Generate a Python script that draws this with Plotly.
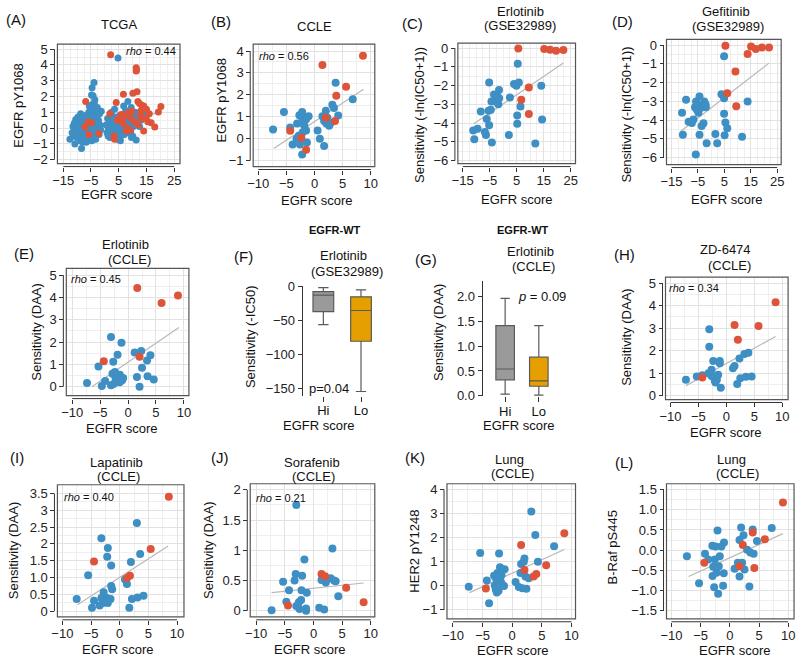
import plotly.graph_objects as go

W, H = 800, 665
FONT = "Liberation Sans, Arial, Helvetica, sans-serif"
BLUE = "#3E8FC4"
RED = "#DD543A"
FITC = "#b8b8b8"

# ---------------- data ----------------
A_blue = [(-12.6,-0.7),(-11.8,-0.3),(-11.5,0.1),(-11.2,-0.5),(-10.9,-0.2),(-10.5,0.55),(-10.3,0.2),(-10.1,-0.6),
          (-9.8,-0.1),(-9.6,0.3),(-9.4,-0.4),(-9.2,0.0),(-9.0,-0.8),(-8.8,0.4),(-8.6,-0.2),(-8.4,-1.3),(-8.3,0.1),
          (-8.1,-0.5),(-7.9,0.6),(-7.7,-0.1),(-7.6,0.3),(-7.4,-0.7),(-7.2,-0.3),(-7.0,0.2),(-6.9,0.8),(-6.7,-0.9),
          (-6.5,0.0),(-6.3,0.5),(-6.2,-0.4),(-6.0,-0.1),(-5.8,1.0),(-5.7,0.3),(-5.5,-0.6),(-5.3,0.7),(-5.2,-0.2),
          (-5.0,1.3),(-4.9,0.1),(-4.7,-0.8),(-4.6,1.48),(-4.6,2.55),(-4.25,2.04),(-4.4,0.5),(-4.2,-0.3),(-4.0,0.9),
          (-3.9,2.88),(-3.8,1.6),(-3.7,0.2),(-3.5,-0.5),(-3.4,1.1),(-3.2,0.4),(-3.0,-0.2),(-2.9,0.7),(-2.7,1.3),
          (-2.5,0.0),(-2.3,0.5),(-2.1,-0.4),(-1.9,0.9),(-1.7,0.2),(-1.3,1.06),(-1.5,-0.1),(-8.0,-0.9),(-9.7,0.7),
          (-6.8,0.4),(-5.4,0.2),(-7.3,0.0),(-10.8,-1.0),(-3.6,1.8),(-4.8,2.1),(-4.3,1.2),(-5.6,1.4),(-11.0,0.3),
          (-9.9,-0.5),(-8.7,0.9),(-7.5,-0.4),(-6.4,-0.6),(-5.9,0.6),(-4.5,-0.1),(-3.3,-0.7),(-2.6,0.3),(-2.2,1.0),
          (0.5,0.2),(0.8,-0.3),(1.0,0.6),(1.3,-0.1),(1.5,0.3),(1.8,-0.6),(2.0,0.9),(2.2,0.0),(2.5,-0.4),(2.7,0.4),
          (3.0,0.1),(3.2,-0.2),(3.4,0.7),(3.6,-0.5),(3.8,0.3),(4.0,-0.1),(4.3,0.5),(4.5,-0.7),(4.74,4.44),(4.8,0.2),
          (5.0,-0.3),(5.3,0.8),(5.5,0.0),(5.8,-0.5),(6.0,0.4),(6.2,-0.2),(6.5,0.6),(6.7,0.1),(7.0,-0.4),(7.2,0.3),
          (7.5,1.1),(7.7,-0.1),(8.0,0.5),(8.3,1.68),(8.5,-0.3),(8.8,0.2),(9.0,0.8),(9.3,-0.2),(9.5,1.3),(9.8,0.4),
          (10.0,-0.5),(10.3,0.1),(10.6,0.6),(10.9,1.0),(11.3,-0.76),(11.5,0.3),(12.0,0.7),(12.5,0.1),(13.0,0.5),
          (14.0,0.96),(3.5,1.2),(6.8,1.4),(2.4,1.0),(5.6,-0.8),(9.6,-0.6),(11.8,0.9),(1.2,-0.5),(7.9,0.9),
          (4.1,0.0),(6.3,-0.1),(8.6,0.1),(3.1,0.5),(5.1,0.4),(7.4,0.6),(9.1,0.0),(10.4,0.8)]
A_red = [(2.1,4.64),(11.3,3.82),(11.3,3.61),(11.4,3.7),(10.1,2.2),(11.6,2.3),(6.7,2.14),(-6.9,1.68),(4.1,1.62),
         (11.9,1.68),(12.5,1.55),(13.3,1.45),(14.0,1.4),(15.0,1.2),(20.2,1.37),(19.3,1.02),(1.8,0.9),(-6.0,0.4),
         (-4.8,0.34),(-2.2,-0.34),(-7.2,0.07),(-5.8,-0.4),(3.5,-0.7),(3.3,-0.5),(7.7,-0.18),(9.2,-0.14),(14.0,-0.18),
         (18.0,0.07),(16.7,0.34),(15.5,0.4),(14.9,0.6),(10.7,0.4),(5.9,0.86),(5.3,0.65),(8.3,0.96),(9.7,1.06),
         (12.8,0.86),(13.3,0.6),(9.6,0.6),(6.5,0.3),(13.0,1.1),(16.0,0.9),(12.0,0.2),(8.0,0.0),(4.5,0.5),(7.0,0.7)]
A_fit = [(-12.0,-0.28),(19.0,0.96)]

B_blue = [(-7.37,0.42),(-5.44,1.22),(-4.33,0.51),(-3.1,0.69),(-2.7,1.07),(-2.2,1.22),(-2.1,0.96),(-2.4,0.73),
          (-1.8,0.59),(-1.5,0.37),(-2.1,0.29),(-2.8,0.14),(-3.2,0.0),(-3.9,-0.26),(-2.6,-0.26),(-2.2,-0.72),
          (-1.35,-0.17),(-1.05,1.03),(-1.5,0.89),(0.53,0.37),(0.94,0.0),(1.4,1.03),(1.7,-0.33),(2.0,1.28),
          (2.28,0.96),(2.6,0.59),(1.7,0.81),(2.1,0.69),(2.9,0.73),(3.16,1.55),(3.45,1.4),(3.74,2.55),(4.2,1.06),
          (6.78,1.8)]
B_red = [(-4.33,0.36),(-2.34,0.04),(-1.5,-0.5),(1.4,3.36),(2.0,0.96),(3.63,0.81),(3.86,1.96),(5.6,2.37),(8.6,3.78)]
B_fit = [(-7.25,-0.45),(8.7,2.26)]

C_blue = [(-11.1,-4.39),(-9.5,-4.30),(-10.7,-4.86),(-8.3,-3.38),(-6.8,-4.48),(-6.4,-4.64),(-6.1,-3.78),(-5.2,-1.84),
          (-5.4,-3.34),(-4.6,-3.29),(-5.2,-4.11),(-4.35,-2.85),(-4.2,-5.04),(-3.4,-2.47),(-3.1,-2.85),(-2.4,-2.5),
          (-2.2,-2.61),(-1.55,-2.24),(-1.8,-2.99),(-1.5,-2.68),(2.5,-2.64),(2.1,-4.64),(4.0,-1.92),(4.9,-2.01),
          (5.4,-0.84),(5.2,-3.59),(5.2,-4.04),(5.8,-1.84),(6.4,-3.11),(14.1,-2.01),(14.4,-3.81),(11.9,-5.09)]
C_red = [(5.6,-0.02),(9.5,-2.10),(6.7,-2.76),(9.5,-3.52),(15.2,-0.05),(17.4,-0.09),(19.6,-0.14),(22.3,-0.1)]
C_fit = [(-10.9,-4.04),(22.3,-0.80)]

D_blue = [(-11.0,-3.61),(-10.7,-4.78),(-9.5,-2.91),(-8.5,-4.08),(-7.3,-4.15),(-6.7,-3.96),(-6.1,-3.31),(-5.7,-3.0),
          (-5.4,-3.44),(-4.8,-3.61),(-4.4,-2.74),(-4.8,-3.2),(-4.4,-4.78),(-4.0,-3.35),(-3.6,-4.31),(-2.9,-4.17),
          (-2.6,-3.0),(-2.1,-3.17),(-2.0,-3.31),(-1.7,-5.23),(-5.8,-5.83),(1.6,-4.74),(2.3,-5.23),(3.9,-2.62),
          (4.9,-0.59),(4.9,-2.83),(4.9,-3.66),(5.1,-4.8),(5.4,-4.13),(6.1,-4.43),(11.7,-4.88),(13.8,-3.0)]
D_red = [(5.4,-0.03),(6.1,-2.56),(9.2,-1.4),(9.5,-3.26),(13.8,-0.47),(15.1,-0.07),(16.9,-0.21),(19.2,-0.12),(21.9,-0.12)]
D_fit = [(-11.6,-4.6),(21.9,-0.96)]

E_blue = [(-7.35,0.17),(-5.3,0.9),(-4.7,0.03),(-4.1,0.26),(-3.06,2.23),(-3.06,0.07),(-2.65,1.12),(-2.8,0.58),
          (-2.35,0.66),(-2.24,0.39),(-2.06,0.22),(-1.88,1.43),(-1.76,0.44),(-1.47,0.54),(-1.18,1.97),(-1.06,0.29),
          (-0.88,0.39),(-2.6,0.12),(-1.5,0.2),(1.18,1.53),(1.59,0.44),(2.06,0.0),(2.35,1.6),(2.5,0.85),(3.4,1.17),
          (3.5,0.47),(4.0,1.41),(4.6,0.32)]
E_red = [(-4.35,1.14),(1.65,4.42),(2.06,1.34),(6.0,3.75),(8.94,4.08)]
E_fit = [(-6.47,0.0),(9.12,2.65)]

H_blue = [(-7.24,0.7),(-5.3,0.85),(-4.3,0.9),(-3.06,2.95),(-3.06,2.17),(-2.35,1.53),(-2.65,1.14),(-3.2,0.99),
          (-2.65,0.87),(-2.18,0.8),(-2.06,0.66),(-1.94,0.58),(-1.47,0.92),(-1.18,1.53),(-1.18,1.43),(-1.0,0.34),
          (-1.7,0.7),(1.18,1.21),(1.47,1.31),(1.94,0.51),(2.35,1.65),(2.5,0.77),(3.24,1.85),(3.5,0.83),(3.94,1.9),
          (4.53,0.85)]
H_red = [(-4.3,0.8),(1.47,3.13),(2.06,2.48),(5.76,3.09),(8.82,4.15)]
H_fit = [(-7.24,0.44),(8.82,2.62)]

I_blue = [(-7.5,0.36),(-5.5,1.07),(-4.48,0.31),(-4.83,0.1),(-3.2,2.17),(-2.8,0.56),(-3.2,0.39),(-3.5,0.17),
          (-2.9,0.24),(-2.07,1.88),(-2.18,1.62),(-2.07,0.24),(-2.18,0.39),(-1.49,1.36),(-1.49,0.75),(-1.32,0.65),
          (-1.6,0.36),(-2.5,0.3),(0.92,0.94),(1.26,0.81),(1.67,0.1),(1.95,1.46),(2.13,0.36),(2.99,2.62),(3.1,0.41),
          (3.56,1.7),(4.14,0.46)]
I_red = [(-4.48,1.48),(1.26,0.99),(1.78,1.05),(5.4,1.85),(8.56,3.4)]
I_fit = [(-7.36,0.19),(8.45,1.94)]

J_blue = [(-7.3,0.01),(-5.3,0.48),(-4.73,0.15),(-4.27,0.34),(-3.3,0.5),(-3.0,1.75),(-3.1,0.61),(-3.0,0.08),
          (-2.55,0.14),(-2.44,0.03),(-2.15,0.18),(-1.98,0.58),(-2.09,0.34),(-1.58,0.85),(-1.17,0.3),(-1.29,0.04),
          (-1.29,0.0),(1.0,0.05),(1.4,0.51),(1.86,0.02),(2.15,0.47),(3.0,0.54),(3.3,1.03),(3.58,0.5),(3.87,0.49),
          (4.33,0.24)]
J_red = [(-4.44,0.09),(1.4,0.61),(2.03,0.57),(5.7,0.38),(8.74,0.14)]
J_fit = [(-7.3,0.30),(8.74,0.46)]

K_blue = [(-7.33,-0.04),(-5.4,1.36),(-4.28,0.22),(-3.9,-0.72),(-3.06,0.42),(-2.94,0.01),(-2.78,-0.15),(-2.6,-0.28),
          (-2.5,0.53),(-2.22,1.34),(-2.06,0.77),(-1.94,0.19),(-1.67,0.05),(-1.39,-0.01),(-1.28,0.69),(-2.3,-0.2),
          (-2.7,0.3),(-1.8,0.45),(0.56,0.16),(1.11,-0.05),(1.39,0.53),(1.5,0.91),(1.94,1.0),(2.06,1.14),(2.22,0.39),
          (2.39,-0.12),(2.78,0.32),(3.22,3.09),(3.89,2.11),(4.33,1.0),(7.06,1.64),(1.7,-0.1)]
K_red = [(-4.44,-0.11),(1.5,1.7),(2.06,0.66),(3.61,0.39),(4.06,0.49),(5.72,0.86),(8.78,2.18)]
K_fit = [(-7.2,-0.28),(8.78,1.51)]

L_blue = [(-7.35,-0.15),(-5.27,-0.82),(-4.25,-0.09),(-3.69,-0.23),(-3.0,0.11),(-2.85,-0.41),(-2.96,-0.64),
          (-2.68,-0.92),(-2.45,0.09),(-2.56,-0.23),(-2.28,-0.56),(-2.11,0.49),(-2.0,-1.08),(-1.89,-0.40),
          (-1.72,-0.15),(-1.44,0.09),(-1.15,-0.88),(-1.04,-0.57),(-1.0,0.19),(0.82,-0.46),(1.38,-0.31),(1.66,-0.65),
          (1.66,0.25),(1.94,0.56),(2.11,-0.31),(2.34,0.37),(2.51,-0.48),(2.96,0.01),(3.35,-0.9),(3.52,-0.06),
          (3.92,0.51),(4.08,-0.09),(4.65,0.23),(7.18,0.55)]
L_red = [(-4.37,-0.31),(1.66,-0.40),(2.23,0.13),(3.92,0.44),(4.2,-0.44),(6.0,0.27),(9.1,1.18)]
L_fit = [(-7.07,-0.65),(9.1,0.41)]

# boxplot stats: q1, median, q3, lower whisker, upper whisker
F_groups = ["Hi", "Lo"]
F_stats = {"Hi": (-36.7, -12.5, -7.2, -56.0, -1.4), "Lo": (-80.6, -35.2, -15.0, -154.8, -4.8)}
G_groups = ["Hi", "Lo"]
G_stats = {"Hi": (0.32, 0.54, 1.42, 0.03, 1.97), "Lo": (0.19, 0.30, 0.78, 0.01, 1.42)}
BOX_COLORS = {"Hi": "#9a9a9a", "Lo": "#E69F00"}

# ---------------- helpers ----------------
fig = go.Figure()
layout = {}
shapes = []
annotations = []


def ann(text, x, y, size=13, xanchor="center", angle=0, color="#111"):
    annotations.append(dict(text=text, x=x / W, y=1 - y / H, xref="paper", yref="paper", showarrow=False,
                            xanchor=xanchor, yanchor="middle", textangle=angle,
                            font=dict(size=size, family=FONT, color=color)))


def axnames(n):
    s = "" if n == 1 else str(n)
    return "x" + s, "y" + s, "xaxis" + s, "yaxis" + s


TICKFONT = dict(family=FONT, size=13, color="#222")


def scatter_panel(n, box, xr, yr, xticks, yticks, xminor, yminor, blue, red, fit,
                  xtext=None, ytext=None, msize=8):
    x0, y0, x1, y1 = box
    xa, ya, xk, yk = axnames(n)
    layout[xk] = dict(domain=[x0 / W, x1 / W], range=xr, anchor="free", position=1 - (y1 + 3) / H,
                      showline=False, zeroline=False, ticks="outside", ticklen=4, tickcolor="#333",
                      ticklabelstandoff=-2,
                      tickvals=xticks, ticktext=xtext, tickfont=TICKFONT, showgrid=True,
                      gridcolor="#e2e2e2", gridwidth=1,
                      minor=dict(dtick=xminor, tick0=xticks[0], showgrid=True, gridcolor="#efefef", ticks=""))
    layout[yk] = dict(domain=[1 - y1 / H, 1 - y0 / H], range=yr, anchor="free", position=(x0 - 3) / W,
                      showline=False, zeroline=False, ticks="outside", ticklen=4, tickcolor="#333",
                      tickvals=yticks, ticktext=ytext, tickfont=TICKFONT, showgrid=True,
                      gridcolor="#e2e2e2", gridwidth=1,
                      minor=dict(dtick=yminor, tick0=yticks[0], showgrid=True, gridcolor="#efefef", ticks=""))
    fx = [p[0] for p in fit]
    fy = [p[1] for p in fit]
    fig.add_trace(go.Scatter(x=fx, y=fy, mode="lines", line=dict(color=FITC, width=1.2),
                             xaxis=xa, yaxis=ya, showlegend=False, hoverinfo="skip"))
    fig.add_trace(go.Scatter(x=[p[0] for p in blue], y=[p[1] for p in blue], mode="markers",
                             marker=dict(color=BLUE, size=msize, line=dict(width=0)),
                             xaxis=xa, yaxis=ya, showlegend=False))
    fig.add_trace(go.Scatter(x=[p[0] for p in red], y=[p[1] for p in red], mode="markers",
                             marker=dict(color=RED, size=msize, line=dict(width=0)),
                             xaxis=xa, yaxis=ya, showlegend=False))
    shapes.append(dict(type="rect", xref=xa + " domain", yref=ya + " domain", x0=0, x1=1, y0=0, y1=1,
                       line=dict(color="#555", width=1.2), layer="above"))
    shapes.append(dict(type="line", xref=xa, yref="paper", x0=xticks[0], x1=xticks[-1],
                       y0=1 - (y1 + 3) / H, y1=1 - (y1 + 3) / H, line=dict(color="#333", width=1)))
    shapes.append(dict(type="line", xref="paper", yref=ya, y0=yticks[0], y1=yticks[-1],
                       x0=(x0 - 3) / W, x1=(x0 - 3) / W, line=dict(color="#333", width=1)))


def box_panel(n, box, xr, yr, yticks, ytext, groups, stats):
    x0, y0, x1, y1 = box
    xa, ya, xk, yk = axnames(n)
    layout[xk] = dict(domain=[x0 / W, x1 / W], range=xr, anchor=ya, showline=False, zeroline=False,
                      ticks="outside", ticklen=5, tickcolor="#333", tickvals=[1, 2], ticktext=groups,
                      ticklabelstandoff=-2,
                      tickfont=dict(family=FONT, size=13, color="#111"), showgrid=False)
    layout[yk] = dict(domain=[1 - y1 / H, 1 - y0 / H], range=yr, anchor=xa, showline=True, linecolor="#333",
                      linewidth=1, zeroline=False, ticks="outside", ticklen=4, tickcolor="#333",
                      tickvals=yticks, ticktext=ytext, tickfont=TICKFONT, showgrid=False)
    for i, g in enumerate(groups):
        q1, med, q3, lo, hi = stats[g]
        fig.add_trace(go.Box(x=[i + 1], q1=[q1], median=[med], q3=[q3], lowerfence=[lo], upperfence=[hi],
                             fillcolor=BOX_COLORS[g], line=dict(color="#5a5a5a", width=1.2), width=0.55,
                             boxpoints=False, xaxis=xa, yaxis=ya, showlegend=False))


# ---------------- panels ----------------
scatter_panel(1, (52, 38, 176, 160), [-17.1, 27.1], [-2.25, 5.31], [-15, -5, 5, 15, 25], list(range(-2, 6)),
              2.5, 0.5, A_blue, A_red, A_fit, msize=7)
scatter_panel(2, (250, 38, 373, 163), [-10.9, 10.7], [-1.27, 4.31], [-10, -5, 0, 5, 10], list(range(-1, 5)),
              2.5, 0.5, B_blue, B_red, B_fit)
scatter_panel(3, (457, 37, 576, 160), [-16.8, 26.8], [-6.16, 0.26], [-15, -5, 5, 15, 25], list(range(-6, 1)),
              2.5, 0.5, C_blue, C_red, C_fit)
scatter_panel(4, (668, 33, 784, 161), [-16.9, 26.5], [-6.37, 0.31], [-15, -5, 5, 15, 25], list(range(-6, 1)),
              2.5, 0.5, D_blue, D_red, D_fit)
scatter_panel(5, (61, 267, 185, 397), [-11.06, 10.9], [-0.40, 5.3], [-10, -5, 0, 5, 10], list(range(0, 6)),
              2.5, 0.5, E_blue, E_red, E_fit)
box_panel(6, (300, 285, 380, 397), [0.45, 2.55], [-160.9, 1], [0, -50, -100, -150], None, F_groups, F_stats)
box_panel(7, (482, 280, 560, 397.5), [0.33, 2.62], [-0.01, 2.32], [0, 0.5, 1, 1.5, 2],
          ["0.0", "0.5", "1.0", "1.5", "2.0"], G_groups, G_stats)
scatter_panel(8, (667, 276, 791, 401), [-10.9, 11.06], [-0.18, 5.26], [-10, -5, 0, 5, 10], list(range(0, 6)),
              2.5, 0.5, H_blue, H_red, H_fit)
scatter_panel(9, (52, 488, 180, 623), [-10.86, 11.2], [-0.17, 3.76], [-10, -5, 0, 5, 10],
              [0, 0.5, 1, 1.5, 2, 2.5, 3, 3.5], 2.5, 0.25, I_blue, I_red, I_fit,
              ytext=["0", "0.5", "1.0", "1.5", "2", "2.5", "3", "3.5"])
scatter_panel(10, (247, 487, 373, 623), [-11.03, 10.69], [-0.1, 2.1], [-10, -5, 0, 5, 10],
              [0, 0.5, 1, 1.5, 2], 2.5, 0.25, J_blue, J_red, J_fit, ytext=["0", "0.5", "1", "1.5", "2"])
scatter_panel(11, (446, 487, 576, 625), [-11, 10.67], [-1.37, 4.24], [-10, -5, 0, 5, 10], list(range(-1, 5)),
              2.5, 0.5, K_blue, K_red, K_fit)
scatter_panel(12, (668, 487, 797, 625), [-10.85, 11.0], [-1.7, 1.645], [-10, -5, 0, 5, 10],
              [-1.5, -1, -0.5, 0, 0.5, 1, 1.5], 2.5, 0.25, L_blue, L_red, L_fit,
              ytext=["−1.5", "−1.0", "−0.5", "0.0", "0.5", "1.0", "1.5"])

# ---------------- texts ----------------
for t, x, y in [("(A)", 10, 13), ("(B)", 217, 15), ("(C)", 411, 17), ("(D)", 624, 15), ("(E)", 18, 252),
                ("(F)", 240, 255), ("(G)", 425, 258), ("(H)", 626, 253), ("(I)", 11, 460), ("(J)", 216, 460),
                ("(K)", 414, 460), ("(L)", 625, 465)]:
    ann(t, x, y, size=15)
for t, x, y in [("TCGA", 114, 18), ("CCLE", 312, 20), ("Erlotinib", 520, 5), ("(GSE32989)", 520, 19),
                ("Gefitinib", 728, 5), ("(GSE32989)", 730, 20), ("Erlotinib", 121, 243), ("(CCLE)", 125, 258),
                ("Erlotinib", 341, 254), ("(GSE32989)", 345, 270), ("Erlotinib", 530, 250), ("(CCLE)", 533, 265),
                ("ZD-6474", 728, 248), ("(CCLE)", 732, 264), ("Lapatinib", 112, 465), ("(CCLE)", 114, 480),
                ("Sorafenib", 309, 465), ("(CCLE)", 311, 480), ("Lung", 509, 462), ("(CCLE)", 512, 477),
                ("Lung", 734, 462), ("(CCLE)", 740, 477)]:
    ann(t, x, y, size=13)
ann("<b>EGFR-WT</b>", 333, 228, size=11)
ann("<b>EGFR-WT</b>", 523, 228, size=11)
for x, y in [(112, 192), (315, 198), (517, 197), (729, 197), (117, 431), (317, 427), (519, 427), (728, 435),
             (113, 656), (307, 656), (513, 657), (737, 657)]:
    ann("EGFR score", x, y, size=13)
for t, x, y in [("EGFR pY1068", 13, 100), ("EGFR pY1068", 218, 95), ("Sensitivity (-ln(IC50+1))", 418, 110),
                ("Sensitivity (-ln(IC50+1))", 628, 110), ("Sensitivity (DAA)", 30, 332),
                ("Sensitivity (-IC50)", 248, 337), ("Sensitivity (DAA)", 437, 332), ("Sensitivity (DAA)", 628, 337),
                ("Sensitivity (DAA)", 7, 555), ("Sensitivity (DAA)", 205, 555), ("HER2 pY1248", 413, 556),
                ("B-Raf pS445", 613, 552)]:
    ann(t, x, y, size=13, angle=-90)
for t, x, y, xa in [("<i>rho</i> = 0.44", 174, 45, "right"), ("<i>rho</i> = 0.56", 254, 50, "left"),
                    ("<i>rho</i> = 0.45", 64, 278, "left"), ("<i>rho</i> = 0.34", 669, 287, "left"),
                    ("<i>rho</i> = 0.40", 57, 501, "left"), ("<i>rho</i> = 0.21", 251, 502, "left")]:
    ann(t, x, y, size=11, xanchor=xa)
ann("p=0.04", 304, 390, size=13, xanchor="left")
ann("<i>p</i> = 0.09", 516, 296, size=13, xanchor="left")

fig.update_layout(width=W, height=H, margin=dict(l=0, r=0, t=0, b=0), plot_bgcolor="white",
                  paper_bgcolor="white", showlegend=False, shapes=shapes, annotations=annotations,
                  font=dict(family=FONT), **layout)
fig.write_html("out.html", config={"displayModeBar": False},
               post_script="document.body.style.margin='0px';document.body.style.overflow='hidden';")
